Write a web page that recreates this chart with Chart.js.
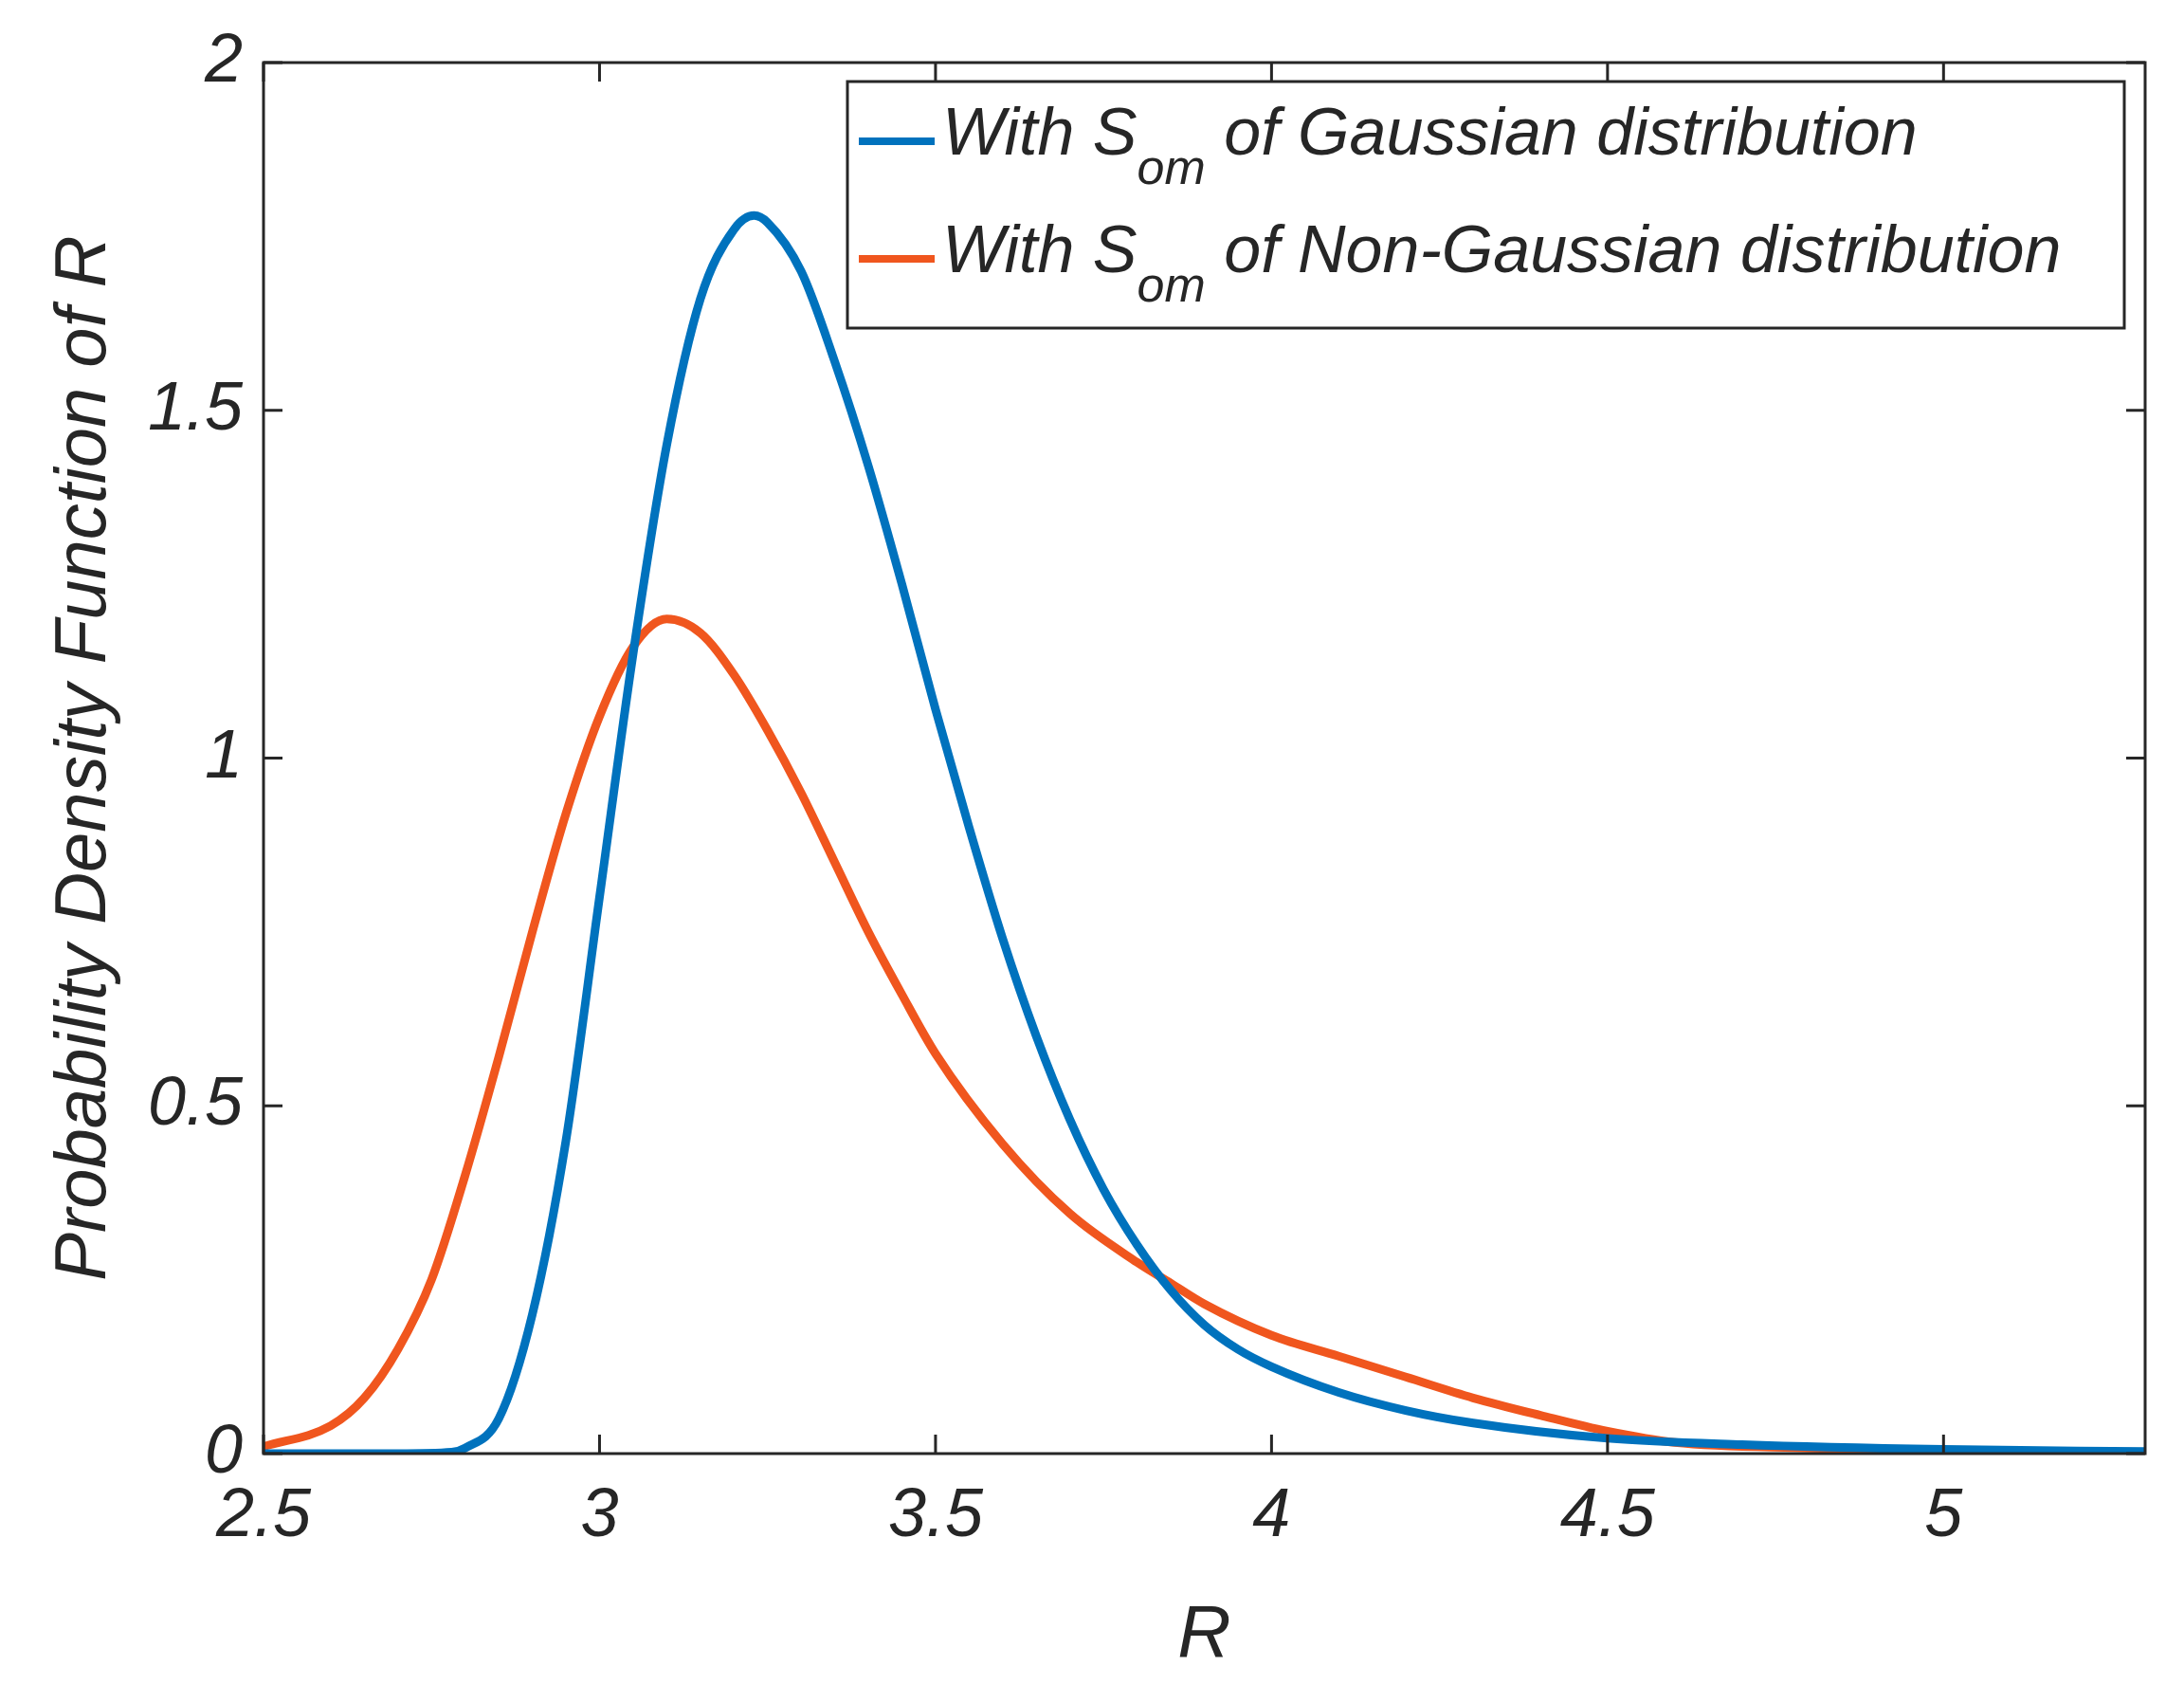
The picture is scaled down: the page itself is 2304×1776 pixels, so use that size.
<!DOCTYPE html>
<html>
<head>
<meta charset="utf-8">
<script src="https://cdn.jsdelivr.net/npm/chart.js@4"></script>
<style>
  html, body { margin: 0; padding: 0; background: #fff; }
  canvas { display: block; }
</style>
</head>
<body>
<canvas id="pdf" width="2304" height="1776"></canvas>
<script>
// R values and PDF values
const rGauss = [2.5, 2.7, 2.78, 2.8, 2.85, 2.9, 2.95, 3.0, 3.05, 3.1, 3.15, 3.2, 3.23, 3.25, 3.3, 3.35, 3.4, 3.45, 3.5, 3.55, 3.6, 3.65, 3.7, 3.75, 3.8, 3.85, 3.9, 3.95, 4.0, 4.1, 4.2, 4.3, 4.5, 4.7, 5.0, 5.3];
const pdfGauss = [0, 0, 0.002, 0.008, 0.05, 0.2, 0.45, 0.8, 1.15, 1.45, 1.66, 1.76, 1.78, 1.77, 1.7, 1.57, 1.42, 1.25, 1.07, 0.9, 0.74, 0.6, 0.48, 0.38, 0.3, 0.235, 0.185, 0.15, 0.125, 0.088, 0.062, 0.044, 0.022, 0.013, 0.006, 0.003];

const rNonGauss = [2.5, 2.6, 2.65, 2.7, 2.75, 2.8, 2.85, 2.9, 2.95, 3.0, 3.05, 3.1, 3.15, 3.2, 3.25, 3.3, 3.35, 3.4, 3.45, 3.5, 3.6, 3.7, 3.8, 3.85, 3.9, 4.0, 4.1, 4.2, 4.3, 4.4, 4.5, 4.6, 4.8, 5.0, 5.3];
const pdfNonGauss = [0.01, 0.04, 0.08, 0.15, 0.25, 0.4, 0.57, 0.75, 0.92, 1.06, 1.16, 1.2, 1.18, 1.12, 1.04, 0.95, 0.85, 0.75, 0.66, 0.575, 0.445, 0.345, 0.275, 0.245, 0.215, 0.17, 0.14, 0.11, 0.08, 0.055, 0.032, 0.016, 0.008, 0.004, 0.002];

const xTicks = [2.5, 3, 3.5, 4, 4.5, 5];
const yTicks = [0, 0.5, 1, 1.5, 2];

const BLUE = '#0072BD';
const ORANGE = '#F0561E';
const FONT = '"Liberation Sans", Arial, sans-serif';

const toPoints = (xs, ys) => xs.map((x, i) => ({ x: x, y: ys[i] }));

// box + inward ticks on all sides, MATLAB style
const boxPlugin = {
  id: 'box',
  afterDraw(chart) {
    const { ctx, chartArea: a, scales } = chart;
    ctx.save();
    ctx.strokeStyle = '#262626';
    ctx.lineWidth = 3;
    ctx.strokeRect(a.left, a.top, a.right - a.left, a.bottom - a.top);
    const len = 20;
    xTicks.forEach(v => {
      const px = scales.x.getPixelForValue(v);
      ctx.beginPath();
      ctx.moveTo(px, a.bottom); ctx.lineTo(px, a.bottom - len);
      ctx.moveTo(px, a.top); ctx.lineTo(px, a.top + len);
      ctx.stroke();
    });
    yTicks.forEach(v => {
      const py = scales.y.getPixelForValue(v);
      ctx.beginPath();
      ctx.moveTo(a.left, py); ctx.lineTo(a.left + len, py);
      ctx.moveTo(a.right, py); ctx.lineTo(a.right - len, py);
      ctx.stroke();
    });
    ctx.restore();
  }
};

// legend with subscripts
const legendPlugin = {
  id: 'subLegend',
  afterDraw(chart) {
    const { ctx } = chart;
    const bx = 894, by = 86, bw = 1347, bh = 260;
    ctx.save();
    ctx.fillStyle = '#fff';
    ctx.fillRect(bx, by, bw, bh);
    ctx.strokeStyle = '#262626';
    ctx.lineWidth = 3;
    ctx.strokeRect(bx, by, bw, bh);
    const rows = [
      { color: BLUE, tail: ' of Gaussian distribution', y: by + 58 },
      { color: ORANGE, tail: ' of Non-Gaussian distribution', y: by + 182 }
    ];
    rows.forEach(r => {
      ctx.strokeStyle = r.color;
      ctx.lineWidth = 8;
      ctx.beginPath();
      ctx.moveTo(bx + 12, r.y + 5); ctx.lineTo(bx + 92, r.y + 5);
      ctx.stroke();
      ctx.fillStyle = '#262626';
      ctx.textBaseline = 'middle';
      let x = bx + 100;
      ctx.font = 'italic 70px ' + FONT;
      const t1 = 'With S';
      ctx.fillText(t1, x, r.y);
      x += ctx.measureText(t1).width;
      ctx.font = 'italic 52px ' + FONT;
      ctx.fillText('om', x, r.y + 36);
      x += ctx.measureText('om').width;
      ctx.font = 'italic 70px ' + FONT;
      ctx.fillText(r.tail, x, r.y);
    });
    ctx.restore();
  }
};

new Chart(document.getElementById('pdf').getContext('2d'), {
  type: 'scatter',
  data: {
    datasets: [
      {
        label: 'With S_om of Gaussian distribution',
        data: toPoints(rGauss, pdfGauss),
        borderColor: BLUE,
        borderWidth: 9,
        showLine: true,
        pointRadius: 0,
        cubicInterpolationMode: 'monotone'
      },
      {
        label: 'With S_om of Non-Gaussian distribution',
        data: toPoints(rNonGauss, pdfNonGauss),
        borderColor: ORANGE,
        borderWidth: 9,
        showLine: true,
        pointRadius: 0,
        cubicInterpolationMode: 'monotone'
      }
    ]
  },
  options: {
    responsive: false,
    animation: false,
    layout: { padding: { left: 40, top: 66, right: 41, bottom: 0 } },
    plugins: {
      legend: { display: false },
      tooltip: { enabled: false }
    },
    scales: {
      x: {
        type: 'linear',
        min: 2.5,
        max: 5.3,
        afterBuildTicks: s => { s.ticks = xTicks.map(v => ({ value: v })); },
        afterFit: s => { s.height = 243; },
        grid: { display: false, drawTicks: false },
        border: { display: false },
        ticks: {
          color: '#262626',
          padding: 24,
          font: { family: FONT, size: 72, style: 'italic' },
          callback: v => String(v)
        },
        title: {
          display: true,
          text: 'R',
          color: '#262626',
          padding: { top: 4 },
          font: { family: FONT, size: 78, style: 'italic' }
        }
      },
      y: {
        type: 'linear',
        min: 0,
        max: 2,
        afterBuildTicks: s => { s.ticks = yTicks.map(v => ({ value: v })); },
        afterFit: s => { s.width = 238; },
        grid: { display: false, drawTicks: false },
        border: { display: false },
        ticks: {
          color: '#262626',
          padding: 22,
          font: { family: FONT, size: 72, style: 'italic' },
          callback: v => String(v)
        },
        title: {
          display: true,
          text: 'Probability Density Function of R',
          color: '#262626',
          padding: { bottom: 10 },
          font: { family: FONT, size: 76, style: 'italic' }
        }
      }
    }
  },
  plugins: [boxPlugin, legendPlugin]
});
</script>
</body>
</html>
